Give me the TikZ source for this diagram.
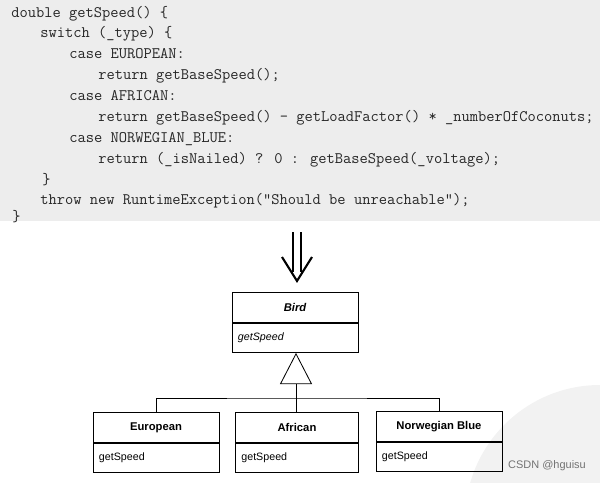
\documentclass[tikz,border=0pt]{standalone}
\usepackage{fontspec}
\setmainfont{Liberation Sans}
\setsansfont{Liberation Sans}
\usetikzlibrary{positioning,arrows.meta,calc}

\begin{document}
\begin{tikzpicture}[
        x=0.025cm, y=-0.025cm,
        code/.style={
            anchor=base west,
            inner sep=0pt,
            font=\ttfamily\fontsize{11.4}{12}\selectfont,
            text=black!85
        },
        clsname/.style={
            draw=black,
            line width=0.6pt,
            minimum width=3.15cm,
            minimum height=0.75cm,
            inner sep=1pt,
            font=\sffamily\bfseries\fontsize{8}{9.6}\selectfont
        },
        clsbody/.style={
            draw=black,
            line width=0.6pt,
            minimum width=3.15cm,
            minimum height=0.73cm,
            text width=2.85cm,
            align=left,
            inner sep=1pt,
            font=\sffamily\fontsize{7.6}{9}\selectfont
        },
        gen/.style={
            line width=0.6pt,
            draw=black
        },
        refarr/.style={
            line width=1.5pt,
            draw=black
        }
    ]

    \useasboundingbox (0,0) rectangle (600,482);

    % =========================
    % Code listing
    % =========================
    \fill[black!7] (0,0) rectangle (600,221);

    \node[code] (c1) at (11,17) {double getSpeed() \{};
    \node[code] (c2) at (40,37) {switch (\_type) \{};
    \node[code] (c3) at (69,58) {case EUROPEAN:};
    \node[code] (c4) at (98,79) {return getBaseSpeed();};
    \node[code] (c5) at (69,100) {case AFRICAN:};
    \node[code] (c6) at (98,121) {return getBaseSpeed() - getLoadFactor() * \_numberOfCoconuts;};
    \node[code] (c7) at (69,142) {case NORWEGIAN\_BLUE:};
    \node[code] (c8) at (98,163) {return (\_isNailed) ? 0 : getBaseSpeed(\_voltage);};
    \node[code] (c9) at (42,184) {\}};
    \node[code] (c10) at (40,204) {throw new RuntimeException("Should be unreachable");};
    \node[code] (c11) at (12,221) {\}};

    % watermark
    \begin{scope}
        \clip (0,0) rectangle (600,482);
        \fill[black!5] (600,520) circle (135);
    \end{scope}

    % =========================
    % Refactoring arrow
    % =========================
    \coordinate (arrtip) at (297,281);
    \draw[refarr] (293,232) -- (293,272);
    \draw[refarr] (301,232) -- (301,272);
    \draw[refarr, line join=miter] ($(arrtip)+(-15,-24)$) -- (arrtip) -- ($(arrtip)+(15,-24)$);

    % =========================
    % Class diagram
    % =========================
    \node[clsname, anchor=north, font=\sffamily\bfseries\itshape\fontsize{8}{9.6}\selectfont] (bird) at (295,292) {Bird};
    \node[clsbody, below=0pt of bird, font=\sffamily\itshape\fontsize{7.6}{9}\selectfont] (birdm) {getSpeed};

    \node[clsname, anchor=north] (euro) at (156,412) {European};
    \node[clsbody, below=0pt of euro] (eurom) {getSpeed};

    \node[clsname, anchor=north, minimum width=3.08cm] (afr) at (297,412) {African};
    \node[clsbody, below=0pt of afr, minimum width=3.08cm, text width=2.78cm] (afrm) {getSpeed};

    \node[clsname, anchor=north] (norw) at (439,411) {Norwegian Blue};
    \node[clsbody, below=0pt of norw] (norwm) {getSpeed};

    \coordinate (join) at (296,398);
    \draw[gen, -{Triangle[open, length=0.78cm, width=0.8cm]}] (join) -- (join |- birdm.south);
    \draw[gen] (euro.north) |- (join) -| (norw.north);
    \draw[gen] (join) -- (afr.north -| join);

    \node[font=\sffamily\fontsize{7.8}{9}\selectfont, text=black!55, inner sep=0pt] (mark) at (547,466) {CSDN @hguisu};

\end{tikzpicture}
\end{document}
